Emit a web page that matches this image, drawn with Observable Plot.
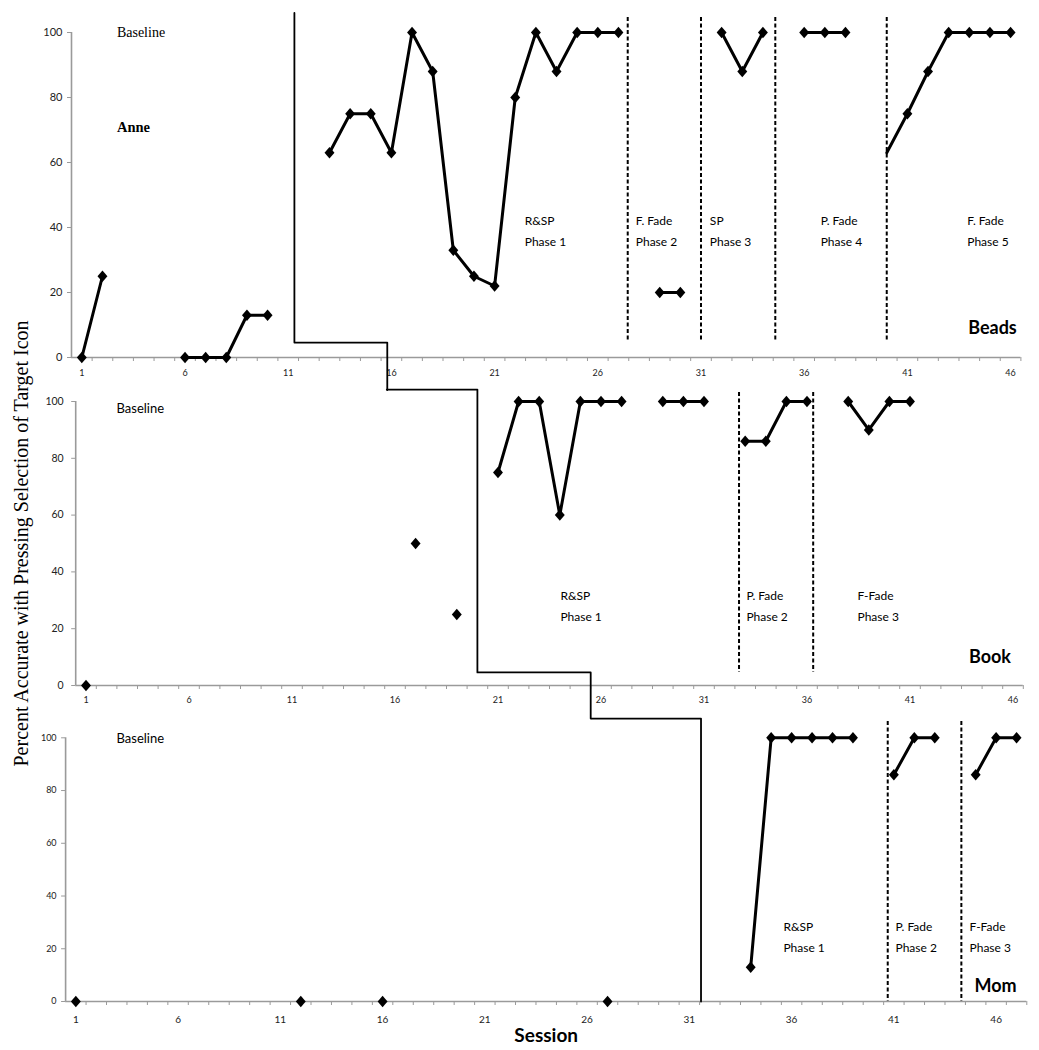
<!DOCTYPE html>
<html><head><meta charset="utf-8">
<script src="https://cdn.jsdelivr.net/npm/d3@7"></script>
<script src="https://cdn.jsdelivr.net/npm/@observablehq/plot@0.6"></script>
<style>
body{margin:0;background:#fff;}
#chart{position:relative;width:1039px;height:1050px;overflow:hidden;background:#fff;}
#chart svg{position:absolute;left:0;top:0;}
</style></head>
<body><div id="chart"></div>
<script>
// ---- tick labels ----
const sessionTicks = [1, 6, 11, 16, 21, 26, 31, 36, 41, 46];
const percentTicks = [0, 20, 40, 60, 80, 100];

// ---- Beads (top) ----
const beadsSessions = [1,2,6,7,8,9,10,13,14,15,16,17,18,19,20,21,22,23,24,25,26,27,29,30,32,33,34,36,37,38,40,41,42,43,44,45,46];
const beadsValues   = [0,25,0,0,0,13,13,63,75,75,63,100,88,33,25,22,80,100,88,100,100,100,20,20,100,88,100,100,100,100,63,75,88,100,100,100,100];
const beadsUnmarked = [40];
const beadsPhaseLines = [27.45, 31.0, 34.6, 40.0];
const beadsStairX = [11.3, 11.3, 15.8, 15.8];
const beadsStairY = [106, 4.6, 4.6, -10];

// ---- Book (middle) ----
const bookSessions = [1,17,19,21,22,23,24,25,26,27,29,30,31,33,34,35,36,38,39,40,41];
const bookValues   = [0,50,25,75,100,100,60,100,100,100,100,100,100,86,86,100,100,100,90,100,100];
const bookUnmarked = [];
const bookPhaseLines = [32.7, 36.3];
const bookStairX = [15.6, 20.0, 20.0, 25.5, 25.5];
const bookStairY = [104.2, 104.2, 4.6, 4.6, -11.6];

// ---- Mom (bottom) ----
const momSessions = [1,12,16,27,34,35,36,37,38,39,41,42,43,45,46,47];
const momValues   = [0,0,0,0,13,100,100,100,100,100,86,100,100,86,100,100];
const momUnmarked = [];
const momPhaseLines = [40.7, 44.3];
const momStairX = [26.2, 31.57, 31.57];
const momStairY = [107.3, 107.3, 0];

const W = 1039, H = 1050;
const AXIS = "#9a9a9a";

const diamond = {
  draw(ctx, size) {
    const s = Math.sqrt(size);
    const w = s * 0.56, h = s * 0.65;
    ctx.moveTo(0, -h); ctx.lineTo(w, 0); ctx.lineTo(0, h); ctx.lineTo(-w, 0); ctx.closePath();
  }
};

function panel(cfg) {
  const data = cfg.sessions.map((s, i) => ({session: s, value: cfg.values[i]}));
  let seg = 0;
  data.forEach((d, i) => {
    if (i > 0 && d.session - data[i - 1].session > 1) seg++;
    d.seg = seg;
    d.marked = !cfg.unmarked.includes(d.session);
  });
  const stair = cfg.stairX.map((x, i) => ({x, y: cfg.stairY[i]}));
  const [x0, x1] = cfg.xDomain;
  const bounds = d3.range(x0 + 1, x1 + 0.01, 1);
  const marks = [
    Plot.ruleX([x0], {y1: 0, y2: 100, stroke: AXIS, strokeWidth: 1.6}),
    Plot.ruleY([0], {x1: x0, x2: x1, stroke: AXIS, strokeWidth: 1.6}),
    Plot.axisY(percentTicks, {tickSize: 4, stroke: AXIS, tickFormat: () => "", label: null}),
    Plot.axisY(percentTicks, {tickSize: 0, tickPadding: cfg.yPad, fontSize: cfg.yFont, color: "#222", label: null}),
    Plot.axisX(bounds, {tickSize: 4, stroke: AXIS, tickFormat: () => "", label: null}),
    Plot.axisX(sessionTicks, {tickSize: 0, tickPadding: cfg.xPad, fontSize: cfg.xFont, color: "#222", label: null}),
    Plot.ruleX(cfg.phaseLines, {y1: cfg.dashY[0], y2: cfg.dashY[1], stroke: "black", strokeWidth: 2, strokeDasharray: "4,2.5"}),
    Plot.line(stair, {x: "x", y: "y", stroke: "black", strokeWidth: 1.8, curve: "linear"}),
    Plot.line(data, {x: "session", y: "value", z: "seg", stroke: "black", strokeWidth: 3}),
    Plot.dot(data.filter(d => d.marked), {x: "session", y: "value", symbol: diamond, r: 5, fill: "black", stroke: "none"}),
    ...cfg.texts.map(t => Plot.text([t.text], {
      x: t.x, y: t.y, text: d => d, textAnchor: t.anchor || "start", lineAnchor: "middle",
      fontSize: t.size || 12, fontWeight: t.weight || "normal", fontFamily: t.font || "Lato, sans-serif",
      lineHeight: 1.75, fill: "black"
    })),
    ...(cfg.extra || [])
  ];
  return Plot.plot({
    width: W, height: H,
    marginLeft: cfg.left, marginRight: W - cfg.right, marginTop: cfg.top, marginBottom: H - cfg.bottom,
    x: {domain: cfg.xDomain, axis: null},
    y: {domain: [0, 100], axis: null},
    style: {fontFamily: "Lato, sans-serif", background: "transparent", overflow: "visible"},
    marks
  });
}

const SERIF = "'Liberation Serif', 'DejaVu Serif', serif";

const topPanel = panel({
  sessions: beadsSessions, values: beadsValues, unmarked: beadsUnmarked,
  phaseLines: beadsPhaseLines, stairX: beadsStairX, stairY: beadsStairY,
  xDomain: [0.5, 46.5], left: 71, right: 1020.4, top: 32, bottom: 357,
  yPad: 9, yFont: 11, xPad: 12, xFont: 9, dashY: [104.6, 4.6],
  texts: [
    {text: "Baseline", x: 2.7, y: 101, size: 14, font: SERIF},
    {text: "Anne", x: 2.7, y: 72, size: 14.5, weight: "bold", font: SERIF},
    {text: "R&SP\nPhase 1", x: 22.46, y: 39.6, size: 12},
    {text: "F. Fade\nPhase 2", x: 27.84, y: 39.6, size: 12},
    {text: "SP\nPhase 3", x: 31.43, y: 39.6, size: 12},
    {text: "P. Fade\nPhase 4", x: 36.8, y: 39.6, size: 12},
    {text: "F. Fade\nPhase 5", x: 43.9, y: 39.6, size: 12},
    {text: "Beads", x: 46.3, y: 10.2, size: 18, weight: "bold", anchor: "end"}
  ]
});

const midPanel = panel({
  sessions: bookSessions, values: bookValues, unmarked: bookUnmarked,
  phaseLines: bookPhaseLines, stairX: bookStairX, stairY: bookStairY,
  xDomain: [0.5, 46.5], left: 75.2, right: 1022.8, top: 401, bottom: 685,
  yPad: 12, yFont: 10.5, xPad: 11, xFont: 9, dashY: [103.2, 4.6],
  texts: [
    {text: "Baseline", x: 2.48, y: 98.6, size: 13},
    {text: "R&SP\nPhase 1", x: 24.03, y: 28.7, size: 12},
    {text: "P. Fade\nPhase 2", x: 33.06, y: 28.7, size: 12},
    {text: "F-Fade\nPhase 3", x: 38.45, y: 28.7, size: 12},
    {text: "Book", x: 45.9, y: 11.6, size: 18, weight: "bold", anchor: "end"}
  ],
  extra: [
    Plot.text(["Percent Accurate with Pressing Selection of Target Icon"], {
      frameAnchor: "left", dx: -54, rotate: -90, text: d => d, textAnchor: "middle", lineAnchor: "middle",
      fontSize: 20, fontFamily: SERIF, fill: "black"
    })
  ]
});

const botPanel = panel({
  sessions: momSessions, values: momValues, unmarked: momUnmarked,
  phaseLines: momPhaseLines, stairX: momStairX, stairY: momStairY,
  xDomain: [0.5, 47.5], left: 65.1, right: 1026.3, top: 737.3, bottom: 1001,
  yPad: 9, yFont: 9, xPad: 14, xFont: 10, dashY: [106.2, 0],
  texts: [
    {text: "Baseline", x: 2.99, y: 100.8, size: 13},
    {text: "R&SP\nPhase 1", x: 35.6, y: 25.2, size: 12},
    {text: "P. Fade\nPhase 2", x: 41.08, y: 25.2, size: 12},
    {text: "F-Fade\nPhase 3", x: 44.7, y: 25.2, size: 12},
    {text: "Mom", x: 47.0, y: 7.5, size: 18, weight: "bold", anchor: "end"}
  ],
  extra: [
    Plot.text(["Session"], {frameAnchor: "bottom", dy: 34, text: d => d, lineAnchor: "middle",
      fontSize: 19, fontWeight: "bold", fill: "black"})
  ]
});

document.getElementById("chart").append(topPanel, midPanel, botPanel);
</script>
</body></html>
